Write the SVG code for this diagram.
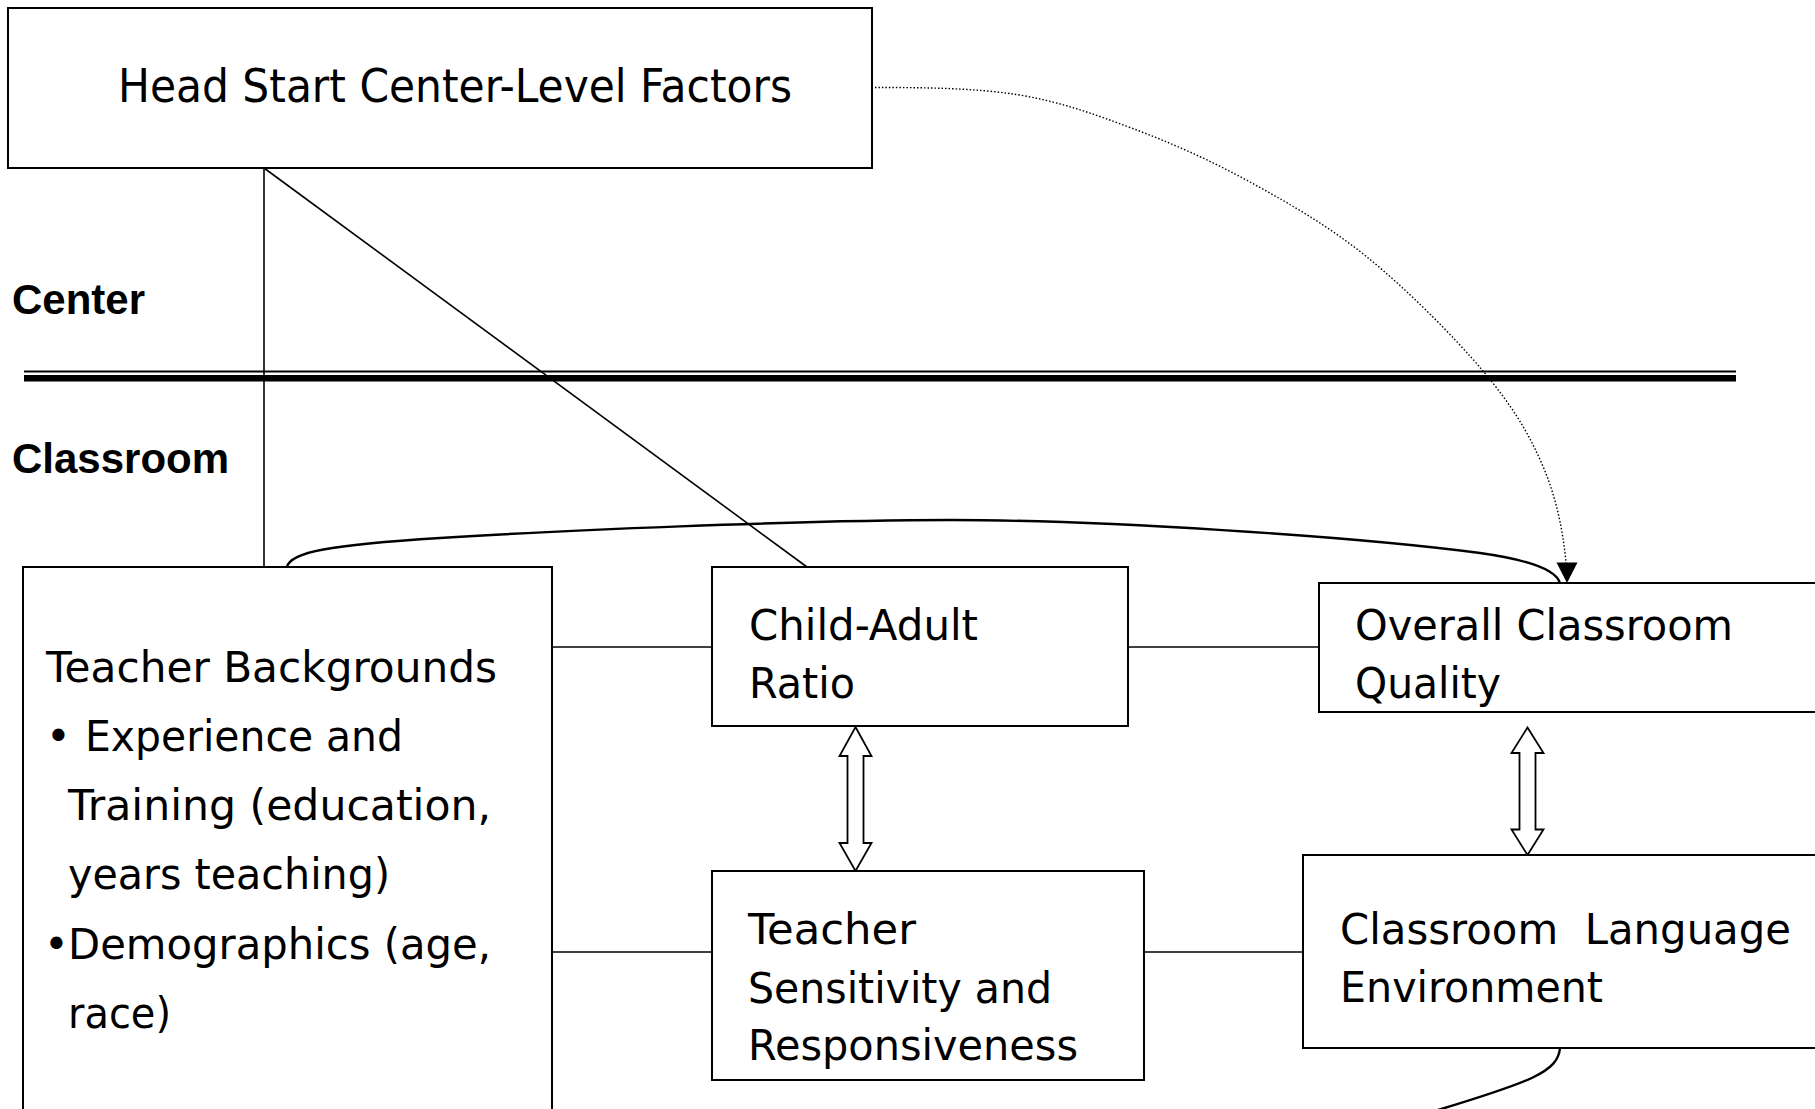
<svg xmlns="http://www.w3.org/2000/svg" width="1815" height="1109" viewBox="0 0 1815 1109">
  <style>
    .box { fill: #fff; stroke: #000; stroke-width: 2; }
    .t { font-family: "DejaVu Sans", "Liberation Sans", sans-serif; font-size: 42px; fill: #000; }
    .big { font-size: 46px; }
    .lvl { font-family: "Liberation Sans", Arial, sans-serif; font-size: 42px; font-weight: bold; fill: #000; }
    .ln { fill: none; stroke: #000; stroke-width: 1.6; }
    .curve { fill: none; stroke: #000; stroke-width: 2.4; }
    .dot { fill: none; stroke: #000; stroke-width: 1.4; stroke-dasharray: 1.5 2; }
    .dbl { fill: #fff; stroke: #000; stroke-width: 1.8; stroke-linejoin: miter; }
  </style>
  <rect x="0" y="0" width="1815" height="1109" fill="#fff"/>

  <g id="level-divider">
    <rect x="24" y="370.5" width="1712" height="2" fill="#000"/>
    <rect x="24" y="375" width="1712" height="6.5" fill="#000"/>
    <text class="lvl" x="12" y="314">Center</text>
    <text class="lvl" x="12" y="473">Classroom</text>
  </g>

  <g id="connectors">
    <line class="ln" x1="264" y1="168" x2="264" y2="567"/>
    <line class="ln" x1="264" y1="168" x2="807" y2="567"/>
    <line class="ln" x1="552" y1="647" x2="712" y2="647"/>
    <line class="ln" x1="552" y1="952" x2="712" y2="952"/>
    <line class="ln" x1="1128" y1="647" x2="1319" y2="647"/>
    <line class="ln" x1="1144" y1="952" x2="1303" y2="952"/>
    <path class="curve" d="M287,567 C290,552 330,545 440,538 S800,520 950,520 S1350,536 1480,553 C1530,560 1556,570 1560,583"/>
    <path class="curve" d="M1560,1048 C1558,1072 1530,1082 1438,1110"/>
    <path class="dot" d="M875,87.5 C922,87.5 974,87.8 1017,94.6 C1060,101.5 1094,114 1133,128.6 C1172,143.2 1211,160.6 1250,182 C1289,203.4 1328,225.5 1367,257 C1406,288.5 1454,336.5 1483,371 C1512,405.5 1528,432 1542,464 C1556,496 1563,530 1566,563"/>
    <polygon points="1556.5,562.5 1577.5,562.5 1567,583" fill="#000"/>
    <polygon class="dbl" points="855.5,727 871.5,756 863.5,756 863.5,843 871.5,843 855.5,871 839.5,843 847.5,843 847.5,756 839.5,756"/>
    <polygon class="dbl" points="1527.5,727.5 1543.5,753 1535.5,753 1535.5,829.5 1543.5,829.5 1527.5,855 1511.5,829.5 1519.5,829.5 1519.5,753 1511.5,753"/>
  </g>

  <g id="head-start">
    <rect class="box" x="8" y="8" width="864" height="160"/>
    <text class="t big" x="118" y="102" textLength="674" lengthAdjust="spacingAndGlyphs">Head Start Center-Level Factors</text>
  </g>

  <g id="teacher-backgrounds">
    <rect class="box" x="23" y="567" width="529" height="600"/>
    <text class="t" x="46" y="682" textLength="451" lengthAdjust="spacingAndGlyphs">Teacher Backgrounds</text>
    <text class="t" x="46" y="751">•</text>
    <text class="t" x="85" y="751" textLength="318" lengthAdjust="spacingAndGlyphs">Experience and</text>
    <text class="t" x="68" y="820" textLength="423" lengthAdjust="spacingAndGlyphs">Training (education,</text>
    <text class="t" x="68" y="889" textLength="322" lengthAdjust="spacingAndGlyphs">years teaching)</text>
    <text class="t" x="44" y="959">•</text>
    <text class="t" x="68" y="959" textLength="423" lengthAdjust="spacingAndGlyphs">Demographics (age,</text>
    <text class="t" x="68" y="1028" textLength="103" lengthAdjust="spacingAndGlyphs">race)</text>
  </g>

  <g id="child-adult-ratio">
    <rect class="box" x="712" y="567" width="416" height="159"/>
    <text class="t" x="749" y="640" textLength="229" lengthAdjust="spacingAndGlyphs">Child-Adult</text>
    <text class="t" x="749" y="698" textLength="106" lengthAdjust="spacingAndGlyphs">Ratio</text>
  </g>

  <g id="overall-quality">
    <rect class="box" x="1319" y="583" width="600" height="129"/>
    <text class="t" x="1355" y="640" textLength="378" lengthAdjust="spacingAndGlyphs">Overall Classroom</text>
    <text class="t" x="1355" y="698" textLength="146" lengthAdjust="spacingAndGlyphs">Quality</text>
  </g>

  <g id="teacher-sensitivity">
    <rect class="box" x="712" y="871" width="432" height="209"/>
    <text class="t" x="748" y="944" textLength="168" lengthAdjust="spacingAndGlyphs">Teacher</text>
    <text class="t" x="748" y="1003" textLength="304" lengthAdjust="spacingAndGlyphs">Sensitivity and</text>
    <text class="t" x="748" y="1060" textLength="330" lengthAdjust="spacingAndGlyphs">Responsiveness</text>
  </g>

  <g id="language-environment">
    <rect class="box" x="1303" y="855" width="600" height="193"/>
    <text class="t" x="1340" y="944" textLength="451" lengthAdjust="spacingAndGlyphs" style="white-space:pre">Classroom  Language</text>
    <text class="t" x="1340" y="1002" textLength="263" lengthAdjust="spacingAndGlyphs">Environment</text>
  </g>
</svg>
